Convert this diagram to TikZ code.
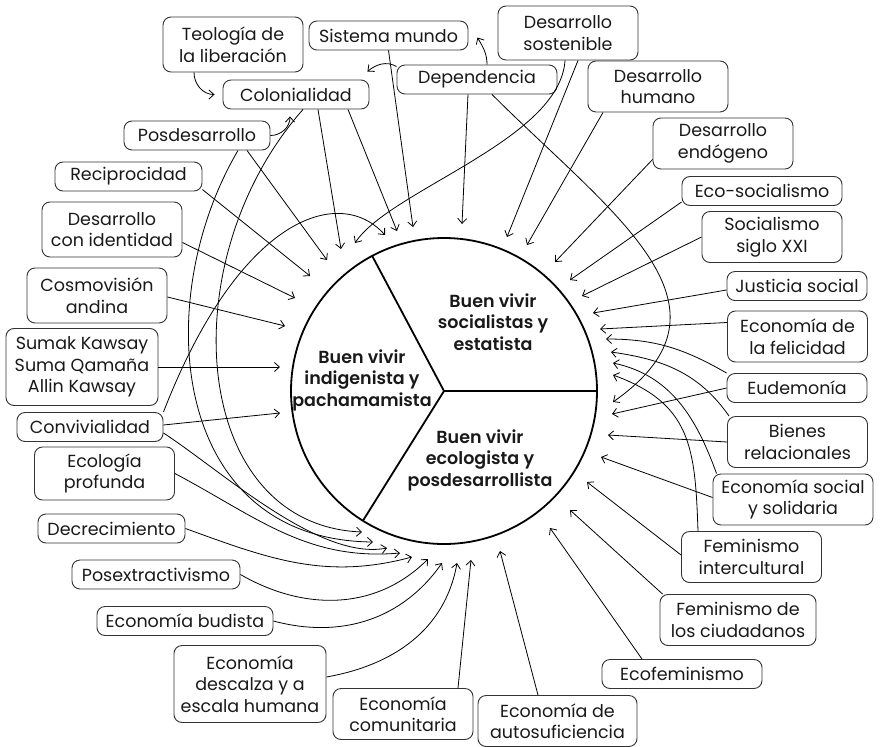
\documentclass[tikz,border=0pt]{standalone}
\usepackage{fontspec}
\setmainfont{Poppins}
\newfontfamily\sectorfont{Poppins SemiBold}
\usetikzlibrary{arrows.meta,calc}
\tikzset{
	box/.style={draw=black!80, rounded corners=8pt, line width=0.9pt, align=center, inner sep=2pt, minimum width=140pt, minimum height=29pt, text=black!90, font=\fontsize{17.5pt}{21.5pt}\selectfont},
	box2/.style={box, minimum height=51pt},
	box3/.style={box, minimum height=77pt},
	sector/.style={align=center, text=black!90, font=\sectorfont\fontsize{17.5pt}{21.5pt}\selectfont},
	wheel/.style={line width=1.8pt},
	link/.style={->, >={Straight Barb[length=5pt,width=9pt]}, line width=0.8pt}
}
\begin{document}
\begin{tikzpicture}[x=1pt, y=1pt]
		\useasboundingbox (0,0) rectangle (881,-747);

		\coordinate (c) at (444,-391);
		\draw [wheel] (c) circle (153);
		\draw [wheel] (c) -- ++(0:153) (c) -- ++(118:153) (c) -- ++(238:153);
		\node [sector] (s1) at (493,-322) {Buen vivir\\socialistas y\\estatista};
		\node [sector] (s2) at (362,-380) {Buen vivir\\indigenista y\\pachamamista};
		\node [sector] (s3) at (480,-460) {Buen vivir\\ecologista y\\posdesarrollista};

		\node [box2, minimum height=55pt] (teo) at (233,-44.5) {Teología de\\la liberación};
		\node [box, minimum width=159pt] (sis) at (388.5,-35.5) {Sistema mundo};
		\node [box, minimum width=146pt] (col) at (296,-94.5) {Colonialidad};
		\node [box, minimum width=160pt] (dep) at (477,-79.5) {Dependencia};
		\node [box, minimum width=146pt] (pos) at (197,-135.5) {Posdesarrollo};
		\node [box, minimum width=147pt] (rec) at (128.5,-176.5) {Reciprocidad};
		\node [box2, minimum height=55pt] (dci) at (112,-229.5) {Desarrollo\\con identidad};
		\node [box2, minimum height=55pt] (cos) at (97,-295.5) {Cosmovisión\\andina};
		\node [box3, minimum width=152pt] (sum) at (82,-367) {Sumak Kawsay\\Suma Qamaña\\Allin Kawsay};
		\node [box, minimum width=146pt] (con) at (90,-427) {Convivialidad};
		\node [box2, minimum height=53pt] (eco) at (104.5,-473.5) {Ecología\\profunda};
		\node [box, minimum width=147pt] (dec) at (111.5,-528.5) {Decrecimiento};
		\node [box, minimum width=168pt] (pex) at (156,-574.5) {Posextractivismo};
		\node [box, minimum width=176pt] (bud) at (185,-621) {Economía budista};
		\node [box3, minimum width=152pt] (des) at (250,-684) {Economía\\descalza y a\\escala humana};
		\node [box2] (com) at (403,-714) {Economía\\comunitaria};
		\node [box2, minimum width=159pt] (aut) at (557.5,-721) {Economía de\\autosuficiencia};
		\node [box, minimum width=160pt] (efe) at (682,-674) {Ecofeminismo};
		\node [box2, minimum width=156pt] (fci) at (738,-620) {Feminismo de\\los ciudadanos};
		\node [box2] (fin) at (751.5,-557) {Feminismo\\intercultural};
		\node [box2, minimum width=160pt] (ess) at (793,-499.5) {Economía social\\y solidaria};
		\node [box2] (bre) at (797.5,-442) {Bienes\\relacionales};
		\node [box] (eud) at (797,-388) {Eudemonía};
		\node [box2] (efl) at (797.5,-336.5) {Economía de\\la felicidad};
		\node [box] (jus) at (797,-286) {Justicia social};
		\node [box2] (soc) at (772,-237) {Socialismo\\siglo XXI};
		\node [box, minimum width=160pt] (ecs) at (762,-191) {Eco-socialismo};
		\node [box2] (den) at (723,-143.5) {Desarrollo\\endógeno};
		\node [box2] (dhu) at (658,-86.5) {Desarrollo\\humano};
		\node [box2, minimum height=54pt] (dso) at (568,-33) {Desarrollo\\sostenible};

		\coordinate (pos1) at (327,-260);
		\coordinate (pos2) at (373,-542);
		\coordinate (rec1) at (310,-276);
		\coordinate (dci1) at (295,-298);
		\coordinate (cos1) at (285,-326);
		\coordinate (sum1) at (280,-367);
		\coordinate (con1) at (280,-413);
		\coordinate (con2) at (385,-235);
		\coordinate (con3) at (387,-548);
		\coordinate (col1) at (341,-249);
		\coordinate (col2) at (397,-231);
		\coordinate (col3) at (362,-532);
		\coordinate (sis1) at (413,-227);
		\coordinate (dep1) at (462,-224);
		\coordinate (dep2) at (613,-402);
		\coordinate (dso1) at (507,-237);
		\coordinate (dso2) at (355,-243);
		\coordinate (dhu1) at (527,-245);
		\coordinate (den1) at (555,-262);
		\coordinate (ecs1) at (570,-280);
		\coordinate (soc1) at (582,-296);
		\coordinate (jus1) at (593,-313);
		\coordinate (efl1) at (600,-329);
		\coordinate (eud1) at (612,-414);
		\coordinate (eud2) at (606,-339);
		\coordinate (bre1) at (608,-435);
		\coordinate (bre2) at (611,-352);
		\coordinate (ess1) at (601,-457);
		\coordinate (ess2) at (613,-363);
		\coordinate (fin1) at (587,-482);
		\coordinate (fin2) at (613,-375);
		\coordinate (fci1) at (570,-510);
		\coordinate (efe1) at (550,-528);
		\coordinate (aut1) at (500,-551);
		\coordinate (com1) at (471,-560);
		\coordinate (des1) at (457,-563);
		\coordinate (bud1) at (442,-563);
		\coordinate (pex1) at (428,-559);
		\coordinate (dec1) at (412,-557);
		\coordinate (eco1) at (400,-553);

		\draw [link] ([xshift=-39pt]teo.south) to [out=-90, in=180] ([xshift=-8pt]col.west);
		\draw [link] (pos.east) to [out=0, in=-90] ([xshift=-6pt, yshift=-7pt]col.south);
		\draw [link] ([yshift=-2pt]dep.north west) to [out=150, in=40] ([xshift=-2pt, yshift=8pt]col.north east);
		\draw [link] ([xshift=10pt]dep.north) to [out=90, in=-60] ([xshift=9pt, yshift=-2pt]sis.east);

		\draw [link] ([xshift=50pt]pos.south) to (pos1);
		\draw [link] (rec.350) to (rec1);
		\draw [link] ([yshift=-13pt]dci.east) to (dci1);
		\draw [link] ([yshift=-1.5pt]cos.east) to (cos1);
		\draw [link] (sum.east) to (sum1);
		\draw [link] ([yshift=2pt]con.east) to (con1);
		\draw [link] ([xshift=22pt]col.south) to (col1);
		\draw [link] ([xshift=52pt]col.south) to (col2);
		\draw [link] (sis.south) to (sis1);
		\draw [link] ([xshift=-9pt]dep.south) to (dep1);
		\draw [link] ([xshift=10pt]dso.south) to (dso1);
		\draw [link] ([xshift=-55pt]dhu.south) to (dhu1);
		\draw [link] ([yshift=-16pt]den.west) to (den1);
		\draw [link] ([yshift=-11pt]ecs.west) to (ecs1);
		\draw [link] (soc.west) to (soc1);
		\draw [link] ([yshift=-4pt]jus.west) to (jus1);
		\draw [link] ([yshift=14pt]efl.west) to (efl1);
		\draw [link] (eud.west) to (eud1);
		\draw [link] (bre.west) to (bre1);
		\draw [link] ([yshift=2pt]ess.west) to (ess1);
		\draw [link] ([yshift=2pt]fin.west) to (fin1);
		\draw [link] ([xshift=3pt]fci.north west) to (fci1);
		\draw [link] ([xshift=-40pt]efe.north) to (efe1);
		\draw [link] ([xshift=-19.5pt]aut.north) to (aut1);
		\draw [link] ([xshift=55pt]com.north) to (com1);

		\draw [link] ([xshift=7pt]col.south) .. controls (170,-260) and (190,-525) .. (col3);
		\draw [link] ([xshift=41pt]pos.south) .. controls (150,-300) and (170,-540) .. (pos2);
		\draw [link] (con.north east) .. controls (240,-215) and (340,-185) .. (con2);
		\draw [link] ([xshift=-3pt]dso.south) .. controls (560,-140) and (390,-190) .. (dso2);
		\draw [link] ([xshift=15pt]dep.south) to [out=-45, in=35, looseness=1.3] (dep2);
		\draw [link] (eud.north west) to [out=150, in=0] (eud2);
		\draw [link] ([xshift=2pt]bre.north west) to [out=125, in=-8] (bre2);
		\draw [link] ([xshift=4pt]ess.north west) to [out=110, in=-12] (ess2);
		\draw [link] ([xshift=-53.5pt]fin.north) to [out=92, in=-20, looseness=1.2] (fin2);
		\draw [link] ([yshift=7pt]des.east) to [out=10, in=-100] (des1);
		\draw [link] (bud.east) to [out=-15, in=-125] (bud1);
		\draw [link] (pex.east) to [out=-30, in=-135] (pex1);
		\draw [link] (dec.east) to [out=-20, in=-165] (dec1);
		\draw [link] (eco.east) to [out=-28, in=-175] (eco1);
		\draw [link] ([yshift=-6pt]con.east) to [out=-33, in=-169, looseness=0.7] (con3);
\end{tikzpicture}
\end{document}
